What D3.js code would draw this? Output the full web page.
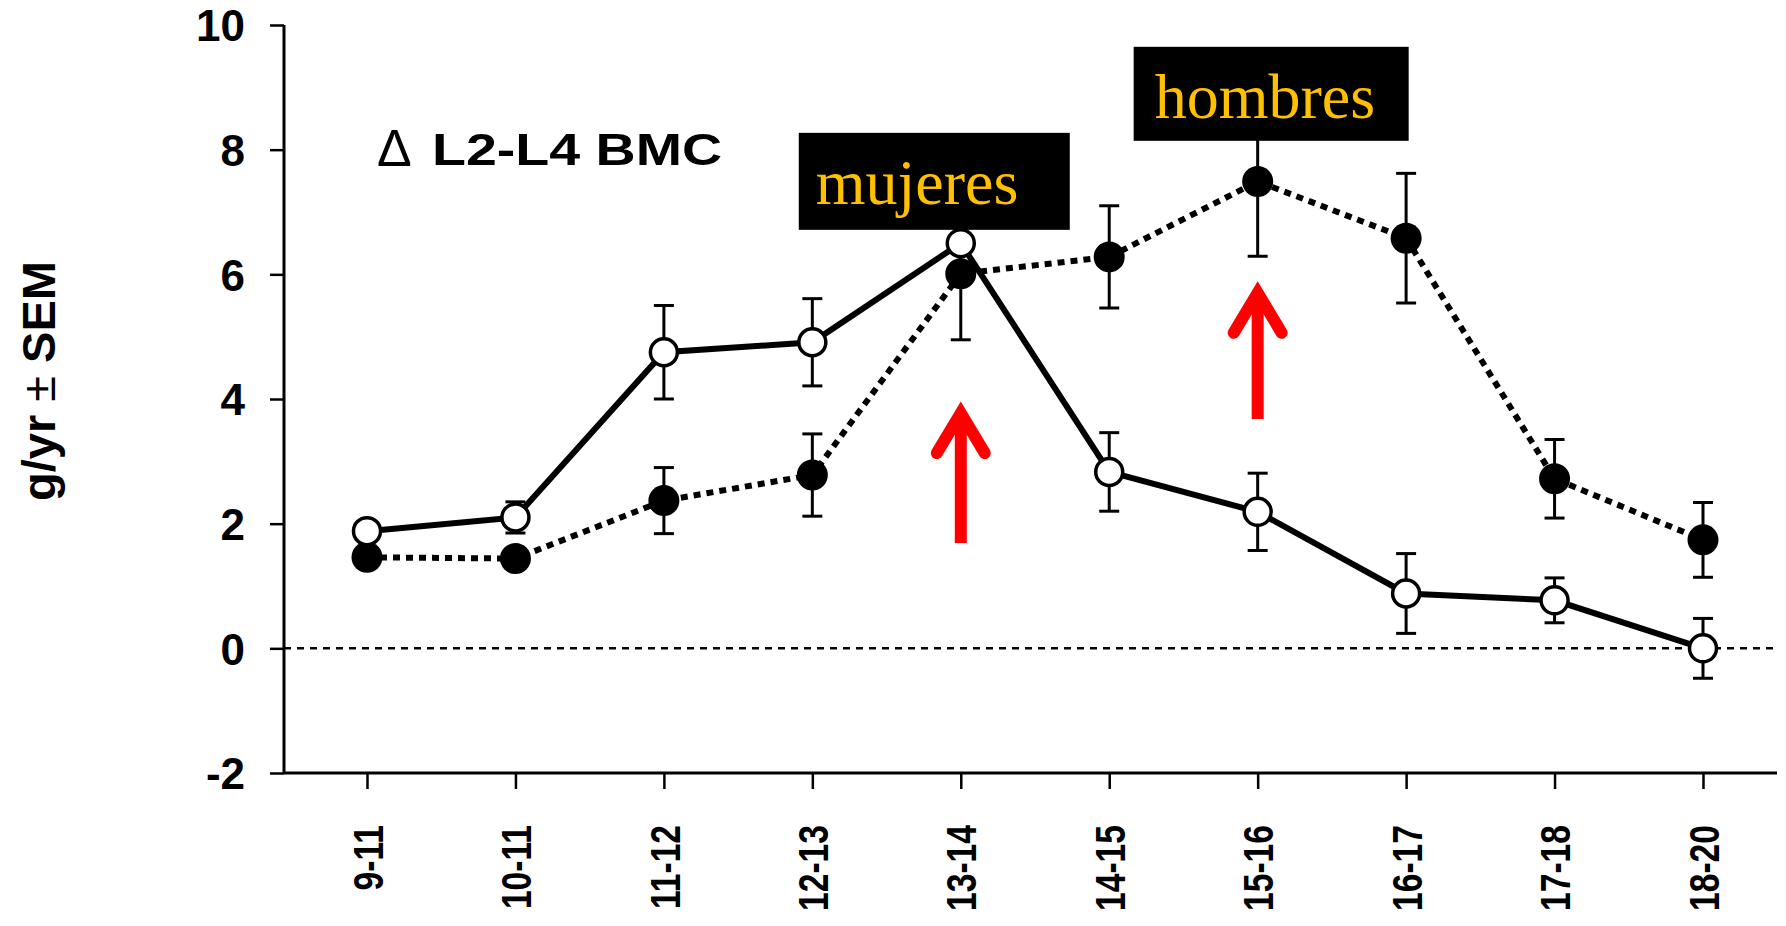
<!DOCTYPE html>
<html>
<head>
<meta charset="utf-8">
<script src="https://cdn.jsdelivr.net/npm/d3@7"></script>
<style>
  html, body { margin: 0; padding: 0; background: #fff; }
  svg { display: block; }
</style>
</head>
<body>
<svg id="chart" width="1786" height="926"></svg>
<script>
// ---- data ----
const categories = ["9-11","10-11","11-12","12-13","13-14","14-15","15-16","16-17","17-18","18-20"];
const girlsValues = [1.88, 2.10, 4.75, 4.91, 6.50, 2.83, 2.19, 0.88, 0.77, 0.00];
const girlsSEM    = [0.10, 0.25, 0.75, 0.70, 0.40, 0.63, 0.62, 0.64, 0.36, 0.48];
const boysValues  = [1.46, 1.44, 2.37, 2.78, 6.01, 6.28, 7.49, 6.58, 2.72, 1.74];
const boysSEM     = [0.10, 0.10, 0.53, 0.66, 1.06, 0.82, 1.20, 1.04, 0.63, 0.60];
const yTicks = [-2, 0, 2, 4, 6, 8, 10];
const labels = [
  {text: "mujeres", cat: "13-14"},
  {text: "hombres", cat: "15-16"}
];
const arrows = [
  {cat: "13-14", from: 1.69, to: 3.87},
  {cat: "15-16", from: 3.68, to: 5.80}
];

// ---- layout ----
const svg = d3.select("#chart");
const axisX = 284, axisBottom = 773, axisTop = 25, xEnd = 1777;
const x = d3.scalePoint().domain(categories).range([367, 1703]);
const y = d3.scaleLinear().domain([-2, 10]).range([axisBottom, axisTop]);

const g = svg.append("g");

// y axis
const yAxis = d3.axisLeft(y).tickValues(yTicks).tickSize(14).tickPadding(25).tickFormat(d => String(d));
const ya = g.append("g").attr("transform", `translate(${axisX},0)`).call(yAxis);
ya.select(".domain").attr("d", `M0,${axisTop}V${axisBottom}`).attr("stroke", "#000").attr("stroke-width", 3);
ya.selectAll(".tick line").attr("stroke", "#000").attr("stroke-width", 2.5);
ya.selectAll(".tick text").attr("font-family", "Liberation Sans, Arial, sans-serif")
  .attr("font-weight", "bold").attr("font-size", 44).attr("fill", "#000").attr("dy", "0.36em");

// x axis
const xAxis = d3.axisBottom(x).tickSize(16).tickFormat(d => d);
const xa = g.append("g").attr("transform", `translate(0,${axisBottom})`).call(xAxis);
xa.select(".domain").attr("d", `M${axisX},0H${xEnd}`).attr("stroke", "#000").attr("stroke-width", 3);
xa.selectAll(".tick line").attr("stroke", "#000").attr("stroke-width", 2.5);
xa.selectAll(".tick text")
  .attr("font-family", "Liberation Sans, Arial, sans-serif")
  .attr("font-weight", "bold").attr("font-size", 42).attr("fill", "#000")
  .attr("text-anchor", "end")
  .attr("transform", "rotate(-90)")
  .attr("x", -52).attr("y", 0).attr("dy", "0.36em")
  .each(function() {
    const len = this.getComputedTextLength();
    d3.select(this).attr("textLength", len * 0.8).attr("lengthAdjust", "spacingAndGlyphs");
  });

// zero reference line
g.append("line")
  .attr("x1", axisX).attr("x2", xEnd)
  .attr("y1", y(0)).attr("y2", y(0))
  .attr("stroke", "#000").attr("stroke-width", 2.5)
  .attr("stroke-dasharray", "7,6");

// y title
g.append("text")
  .attr("transform", `translate(55,${381}) rotate(-90)`)
  .attr("text-anchor", "middle")
  .attr("font-family", "Liberation Sans, Arial, sans-serif")
  .attr("font-weight", "bold").attr("font-size", 47).attr("fill", "#000")
  .call(t => {
    t.append("tspan").text("g/yr ");
    t.append("tspan").attr("font-weight", "normal").text("±");
    t.append("tspan").text(" SEM");
  });

// panel title
g.append("text")
  .attr("x", 377).attr("y", 166)
  .attr("font-family", "Liberation Sans, Arial, sans-serif")
  .attr("font-size", 52).attr("fill", "#000")
  .text("Δ");
g.append("text")
  .attr("x", 432).attr("y", 165)
  .attr("font-family", "Liberation Sans, Arial, sans-serif")
  .attr("font-weight", "bold").attr("font-size", 45).attr("fill", "#000")
  .attr("textLength", 290).attr("lengthAdjust", "spacingAndGlyphs")
  .text("L2-L4 BMC");

// series helpers
function drawErrors(vals, sems) {
  const capW = 10;
  const eg = g.append("g").attr("stroke", "#000").attr("stroke-width", 3);
  categories.forEach((c, i) => {
    const cx = x(c), top = y(vals[i] + sems[i]), bot = y(vals[i] - sems[i]);
    eg.append("line").attr("x1", cx).attr("x2", cx).attr("y1", top).attr("y2", bot);
    eg.append("line").attr("x1", cx - capW).attr("x2", cx + capW).attr("y1", top).attr("y2", top);
    eg.append("line").attr("x1", cx - capW).attr("x2", cx + capW).attr("y1", bot).attr("y2", bot);
  });
}
const line = d3.line().x((d, i) => x(categories[i])).y(d => y(d));

// boys (filled, dotted)
drawErrors(boysValues, boysSEM);
g.append("path").datum(boysValues).attr("d", line)
  .attr("fill", "none").attr("stroke", "#000").attr("stroke-width", 6)
  .attr("stroke-dasharray", "7,6");
// girls (open, solid)
drawErrors(girlsValues, girlsSEM);
g.append("path").datum(girlsValues).attr("d", line)
  .attr("fill", "none").attr("stroke", "#000").attr("stroke-width", 6);

g.append("g").selectAll("circle").data(boysValues).join("circle")
  .attr("cx", (d, i) => x(categories[i])).attr("cy", d => y(d))
  .attr("r", 15.5).attr("fill", "#000");
g.append("g").selectAll("circle").data(girlsValues).join("circle")
  .attr("cx", (d, i) => x(categories[i])).attr("cy", d => y(d))
  .attr("r", 13.5).attr("fill", "#fff").attr("stroke", "#000").attr("stroke-width", 3.5);

// annotation boxes
const boxSpec = {
  "mujeres": {dx: -162, w: 271, top: 8.27, h: 97, tx: 17, ty: 71},
  "hombres": {dx: -124, w: 275, top: 9.65, h: 94, tx: 21, ty: 71}
};
labels.forEach(l => {
  const s = boxSpec[l.text];
  const bx = x(l.cat) + s.dx, by = y(s.top);
  g.append("rect").attr("x", bx).attr("y", by).attr("width", s.w).attr("height", s.h).attr("fill", "#000");
  g.append("text").attr("x", bx + s.tx).attr("y", by + s.ty)
    .attr("font-family", "Liberation Serif, Times New Roman, serif")
    .attr("font-size", 64).attr("fill", "#FFC000").text(l.text);
});

// red arrows
arrows.forEach(a => {
  const cx = x(a.cat), yb = y(a.from), yt = y(a.to);
  g.append("line").attr("x1", cx).attr("x2", cx).attr("y1", yb).attr("y2", yt + 8)
    .attr("stroke", "#ff0000").attr("stroke-width", 12);
  g.append("path")
    .attr("d", `M${cx - 24},${yt + 46}L${cx},${yt + 6}L${cx + 24},${yt + 46}`)
    .attr("fill", "none").attr("stroke", "#ff0000").attr("stroke-width", 12)
    .attr("stroke-linecap", "round").attr("stroke-linejoin", "miter").attr("stroke-miterlimit", 10);
});
</script>
</body>
</html>
